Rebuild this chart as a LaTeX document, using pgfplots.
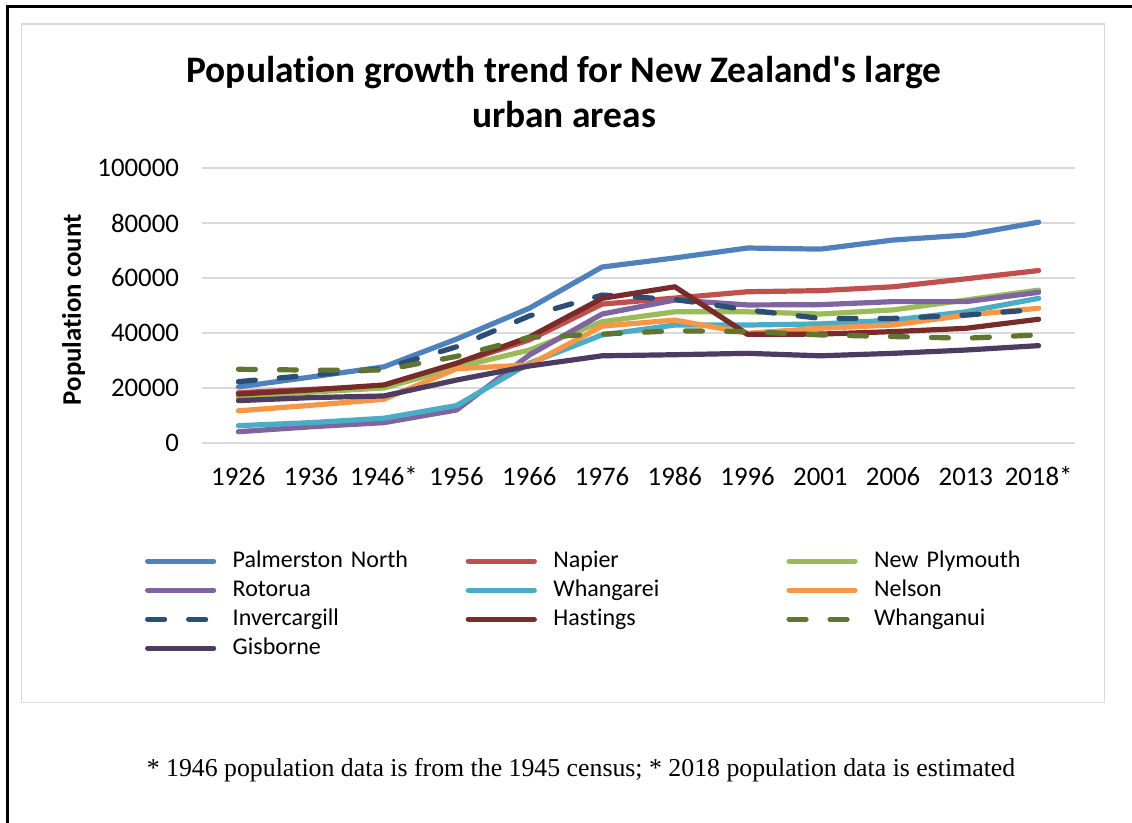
\documentclass[border=0pt]{standalone}
\usepackage{pgfplots}
\pgfplotsset{compat=1.18}
\usepackage{fontspec}
\setmainfont{Carlito}[Ligatures={TeXOff,NoCommon}]
\newfontfamily\timesfont{Liberation Serif}
\definecolor{cPN}{HTML}{4F81BD}
\definecolor{cNA}{HTML}{C0504D}
\definecolor{cNP}{HTML}{9BBB59}
\definecolor{cRO}{HTML}{8064A2}
\definecolor{cWR}{HTML}{4BACC6}
\definecolor{cNE}{HTML}{F79646}
\definecolor{cIN}{HTML}{2C4D75}
\definecolor{cHA}{HTML}{772C2A}
\definecolor{cWN}{HTML}{5F7530}
\definecolor{cGI}{HTML}{4D3B62}
\definecolor{gridgray}{HTML}{D9D9D9}
\begin{document}
\begin{tikzpicture}
\useasboundingbox (0pt,0pt) rectangle (566pt,411.5pt);
\draw[line width=1.5pt] (3.65pt,-2pt) -- (3.65pt,408.4pt) -- (568pt,408.4pt);
\draw[gridgray, line width=0.75pt] (10.85pt,60.35pt) rectangle (552.15pt,399.5pt);
\node[font=\bfseries\fontsize{18.7}{22.5}\selectfont, align=center] at (282pt,365.5pt)
  {Population growth trend for New Zealand's large\\urban areas};
\node[font=\timesfont\fontsize{12.9}{15}\selectfont] at (290.5pt,26.5pt)
  {* 1946 population data is from the 1945 census; * 2018 population data is estimated};
\begin{axis}[
  at={(101pt,190pt)}, anchor=south west,
  scale only axis, width=436.5pt, height=137.5pt,
  xmin=-0.5, xmax=11.5, ymin=0, ymax=100000,
  xtick={0,...,11},
  xticklabels={1926,1936,1946*,1956,1966,1976,1986,1996,2001,2006,2013,2018*},
  ytick={0,20000,40000,60000,80000,100000},
  scaled y ticks=false,
  /pgf/number format/assume math mode=true,
  yticklabel style={/pgf/number format/fixed, /pgf/number format/1000 sep={}, xshift=-8pt},
  tick label style={font=\fontsize{13.4}{15}\selectfont},
  xticklabel style={text height=9.5pt, text depth=2.5pt, yshift=-8pt},
  axis line style={draw=none},
  major tick length=0pt,
  ymajorgrids,
  grid style={gridgray, line width=0.75pt},
  ylabel={\bfseries Population count},
  every axis y label/.style={at={(axis description cs:-0.147,0.484)}, rotate=90, anchor=center, font=\fontsize{13.4}{15}\selectfont},
  every axis plot/.append style={line width=2.6pt, line cap=round, line join=round},
  legend columns=3,
  legend cell align=left,
  legend image code/.code={\draw[#1] (0pt,0pt) -- (33pt,0pt);},
  legend style={draw=none, fill=none, at={(-0.0657,-0.385)}, anchor=north west,
    inner sep=0pt, row sep=2.5pt,
    font=\fontsize{12}{14}\selectfont,
    nodes={inner sep=0pt, text height=9pt, text depth=3pt},
    /tikz/every odd column/.append style={column sep=8.25pt},
    /tikz/every even column/.append style={column sep=16.5pt, text width=100pt}},
  dashstyle/.style={dash pattern=on 8.5pt off 12pt},
]
\addplot[cPN] coordinates {(0,20400)(1,24000)(2,27700)(3,37800)(4,49000)(5,64000)(6,67300)(7,70900)(8,70500)(9,73800)(10,75600)(11,80300)};
\addlegendentry{Palmerston North}
\addplot[cNA] coordinates {(0,18300)(1,19500)(2,20500)(3,28800)(4,37500)(5,50500)(6,52700)(7,55000)(8,55400)(9,56800)(10,59700)(11,62700)};
\addlegendentry{Napier}
\addplot[cNP] coordinates {(0,16800)(1,18500)(2,20000)(3,27500)(4,33800)(5,44100)(6,47700)(7,47700)(8,46900)(9,48400)(10,52000)(11,55600)};
\addlegendentry{New Plymouth}
\addplot[cRO] coordinates {(0,4100)(1,5900)(2,7400)(3,12000)(4,32000)(5,46900)(6,52000)(7,50200)(8,50300)(9,51400)(10,51400)(11,54800)};
\addlegendentry{Rotorua}
\addplot[cWR] coordinates {(0,6300)(1,7400)(2,9000)(3,13600)(4,29000)(5,39300)(6,42900)(7,42900)(8,43300)(9,44700)(10,47700)(11,52600)};
\addlegendentry{Whangarei}
\addplot[cNE] coordinates {(0,11700)(1,13700)(2,15900)(3,27000)(4,28400)(5,42500)(6,44700)(7,39900)(8,41700)(9,42900)(10,46500)(11,49000)};
\addlegendentry{Nelson}
\addplot[cIN, dashstyle] coordinates {(0,22300)(1,24700)(2,27000)(3,35000)(4,46200)(5,53800)(6,52200)(7,48400)(8,45300)(9,45300)(10,46500)(11,48600)};
\addlegendentry{Invercargill}
\addplot[cHA] coordinates {(0,17800)(1,19300)(2,21100)(3,29000)(4,38500)(5,52600)(6,56800)(7,39500)(8,39600)(9,40500)(10,41700)(11,45000)};
\addlegendentry{Hastings}
\addplot[cWN, dashstyle] coordinates {(0,26800)(1,26500)(2,26500)(3,31500)(4,38400)(5,39600)(6,40800)(7,40500)(8,39300)(9,38700)(10,38100)(11,39300)};
\addlegendentry{Whanganui}
\addplot[cGI] coordinates {(0,15400)(1,16500)(2,17100)(3,22900)(4,28000)(5,31700)(6,32100)(7,32600)(8,31700)(9,32600)(10,33800)(11,35400)};
\addlegendentry{Gisborne}
\end{axis}
\end{tikzpicture}
\end{document}
